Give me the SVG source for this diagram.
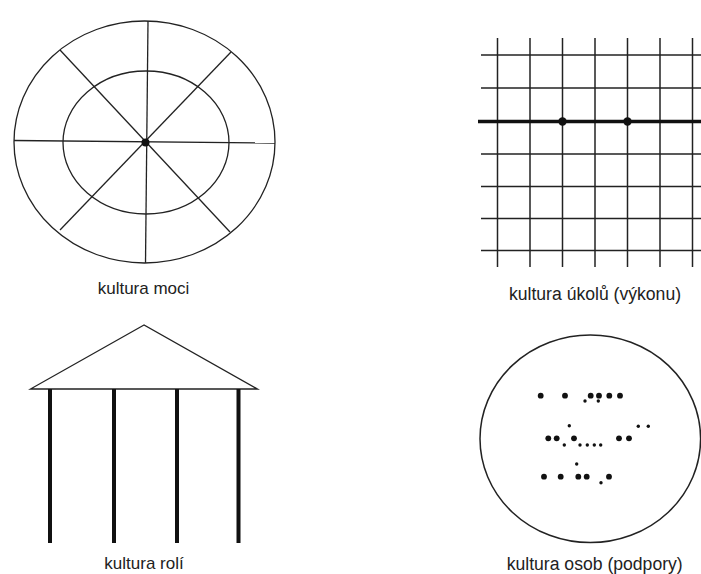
<svg xmlns="http://www.w3.org/2000/svg" width="701" height="574" viewBox="0 0 701 574">
<style>
.ln{stroke:#222;stroke-width:1.3;fill:none}
.gl{stroke:#222;stroke-width:1.5;fill:none}
.col{stroke:#111;stroke-width:4;fill:none}
.dot{fill:#111}
.lbl{font-family:"Liberation Sans",Arial,sans-serif;font-size:17px;fill:#222;text-anchor:middle}
.lbl2{font-size:17.6px}
</style>
<rect width="701" height="574" fill="#fff"/>
<g id="kultura-moci">
<ellipse class="ln" cx="144.5" cy="142" rx="130.5" ry="121"/>
<ellipse class="ln" cx="146" cy="142.5" rx="83" ry="71.5"/>
<line class="ln" x1="148" y1="21" x2="145.5" y2="263"/>
<line class="ln" x1="14" y1="140.5" x2="275" y2="143"/>
<line class="ln" x1="60" y1="50" x2="230" y2="232"/>
<line class="ln" x1="231" y1="52" x2="60" y2="230"/>
<circle class="dot" cx="145.5" cy="142.5" r="4"/>
<text class="lbl" x="143.5" y="294">kultura moci</text>
</g>
<g id="kultura-ukolu">
<g class="gl">
<line x1="497.5" y1="38" x2="497.5" y2="267"/>
<line x1="530" y1="38" x2="530" y2="267"/>
<line x1="562.5" y1="38" x2="562.5" y2="267"/>
<line x1="595" y1="38" x2="595" y2="267"/>
<line x1="627.5" y1="38" x2="627.5" y2="267"/>
<line x1="660" y1="38" x2="660" y2="267"/>
<line x1="692.5" y1="38" x2="692.5" y2="267"/>
<line x1="481" y1="55" x2="701" y2="55"/>
<line x1="481" y1="88" x2="701" y2="88"/>
<line x1="481" y1="154" x2="701" y2="154"/>
<line x1="481" y1="186.5" x2="701" y2="186.5"/>
<line x1="481" y1="218.5" x2="701" y2="218.5"/>
<line x1="481" y1="250.5" x2="701" y2="250.5"/>
</g>
<line x1="478" y1="121.5" x2="701" y2="121.5" stroke="#111" stroke-width="3.5"/>
<circle class="dot" cx="562.5" cy="121.5" r="4.2"/>
<circle class="dot" cx="627.5" cy="121.5" r="4.2"/>
<text class="lbl lbl2" x="595" y="300">kultura úkolů (výkonu)</text>
</g>
<g id="kultura-roli">
<polygon points="144,325 30.5,389 257.5,389" fill="none" stroke="#222" stroke-width="1.3"/>
<line class="col" x1="50" y1="389" x2="50" y2="543"/>
<line class="col" x1="114" y1="389" x2="114" y2="543"/>
<line class="col" x1="177" y1="389" x2="177" y2="543"/>
<line class="col" x1="238.5" y1="389" x2="238.5" y2="543"/>
<text class="lbl" x="144" y="569">kultura rolí</text>
</g>
<g id="kultura-osob">
<ellipse cx="590.3" cy="438.8" rx="110.3" ry="103.8" fill="none" stroke="#222" stroke-width="1.5"/>
<g class="dot">
<circle cx="540.7" cy="395.7" r="2.9"/>
<circle cx="565" cy="395.7" r="2.9"/>
<circle cx="590.7" cy="395.7" r="2.9"/>
<circle cx="599" cy="395.7" r="2.9"/>
<circle cx="609.3" cy="395.7" r="2.9"/>
<circle cx="620" cy="395.7" r="2.9"/>
<circle cx="585" cy="401" r="1.7"/>
<circle cx="598.3" cy="401" r="1.7"/>
<circle cx="569.3" cy="425.7" r="1.7"/>
<circle cx="638.3" cy="426.3" r="1.7"/>
<circle cx="648.3" cy="426.3" r="1.7"/>
<circle cx="548.3" cy="438.3" r="2.9"/>
<circle cx="556.7" cy="438.3" r="2.9"/>
<circle cx="574" cy="438.3" r="2.9"/>
<circle cx="619" cy="438.3" r="2.9"/>
<circle cx="629" cy="438.3" r="2.9"/>
<circle cx="564.3" cy="445" r="1.7"/>
<circle cx="580" cy="445" r="1.7"/>
<circle cx="587.3" cy="445" r="1.7"/>
<circle cx="594.3" cy="445" r="1.7"/>
<circle cx="600.7" cy="445" r="1.7"/>
<circle cx="576.7" cy="464" r="1.7"/>
<circle cx="544" cy="476.7" r="2.9"/>
<circle cx="560.7" cy="476.7" r="2.9"/>
<circle cx="578.3" cy="476.7" r="2.9"/>
<circle cx="586.7" cy="476.7" r="2.9"/>
<circle cx="609" cy="476.7" r="2.9"/>
<circle cx="601" cy="482.7" r="1.7"/>
</g>
<text class="lbl lbl2" x="594.7" y="570">kultura osob (podpory)</text>
</g>
</svg>
